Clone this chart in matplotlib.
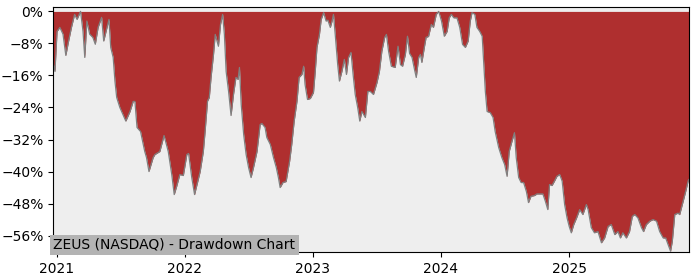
import pandas as pd
import matplotlib
matplotlib.use("Agg")
import matplotlib.pyplot as plt
import matplotlib.dates as mdates
from matplotlib.ticker import FuncFormatter, MultipleLocator

# drawdown points (date, % below the running peak)
dates = [
    "2020-12-22", "2020-12-27", "2021-01-02", "2021-01-10", "2021-01-19", "2021-01-27",
    "2021-02-03", "2021-02-12", "2021-02-21", "2021-02-28", "2021-03-10", "2021-03-17",
    "2021-03-22", "2021-03-28", "2021-04-05", "2021-04-14", "2021-04-21", "2021-04-29",
    "2021-05-09", "2021-05-15", "2021-05-23", "2021-05-30", "2021-06-04", "2021-06-11",
    "2021-06-16", "2021-06-21", "2021-06-30", "2021-07-10", "2021-07-17", "2021-07-29",
    "2021-08-07", "2021-08-12", "2021-08-18", "2021-08-28", "2021-09-09", "2021-09-14",
    "2021-09-21", "2021-10-03", "2021-10-08", "2021-10-22", "2021-11-03", "2021-11-15",
    "2021-11-25", "2021-12-02", "2021-12-09", "2021-12-18", "2021-12-28",
    "2022-01-07", "2022-01-12", "2022-01-21", "2022-01-29", "2022-02-05", "2022-02-14",
    "2022-02-23", "2022-02-28", "2022-03-07", "2022-03-12", "2022-03-17", "2022-03-24",
    "2022-03-29", "2022-04-03", "2022-04-07", "2022-04-13", "2022-04-19", "2022-04-24",
    "2022-04-29", "2022-05-06", "2022-05-13", "2022-05-20", "2022-05-27", "2022-06-02",
    "2022-06-06", "2022-06-11", "2022-06-18", "2022-06-25", "2022-07-02", "2022-07-09",
    "2022-07-16", "2022-07-26", "2022-08-04", "2022-08-09", "2022-08-18", "2022-08-23",
    "2022-09-02", "2022-09-11", "2022-09-19", "2022-09-25", "2022-09-30", "2022-10-08",
    "2022-10-17", "2022-10-27", "2022-11-02", "2022-11-09", "2022-11-17", "2022-11-23",
    "2022-12-01", "2022-12-06", "2022-12-10", "2022-12-17", "2022-12-25",
    "2023-01-03", "2023-01-08", "2023-01-13", "2023-01-20", "2023-01-25", "2023-02-01",
    "2023-02-08", "2023-02-13", "2023-02-20", "2023-02-25", "2023-03-01", "2023-03-06",
    "2023-03-13", "2023-03-18", "2023-03-25", "2023-04-01", "2023-04-07", "2023-04-13",
    "2023-04-20", "2023-04-26", "2023-05-02", "2023-05-09", "2023-05-15", "2023-05-21",
    "2023-05-31", "2023-06-07", "2023-06-14", "2023-06-23", "2023-07-03", "2023-07-10",
    "2023-07-17", "2023-07-25", "2023-07-30", "2023-08-05", "2023-08-13", "2023-08-24",
    "2023-09-01", "2023-09-08", "2023-09-14", "2023-09-22", "2023-09-28", "2023-10-04",
    "2023-10-11", "2023-10-18", "2023-10-23", "2023-10-30", "2023-11-04", "2023-11-08",
    "2023-11-15", "2023-11-20", "2023-11-27", "2023-12-05", "2023-12-11", "2023-12-19",
    "2023-12-26",
    "2024-01-03", "2024-01-11", "2024-01-19", "2024-01-25", "2024-01-31", "2024-02-07",
    "2024-02-16", "2024-02-24", "2024-03-03", "2024-03-11", "2024-03-19", "2024-03-25",
    "2024-03-30", "2024-04-07", "2024-04-13", "2024-04-21", "2024-04-28", "2024-05-02",
    "2024-05-07", "2024-05-12", "2024-05-21", "2024-05-29", "2024-06-04", "2024-06-14",
    "2024-06-23", "2024-07-01", "2024-07-08", "2024-07-14", "2024-07-22", "2024-07-29",
    "2024-08-03", "2024-08-10", "2024-08-17", "2024-08-24", "2024-09-01", "2024-09-07",
    "2024-09-14", "2024-09-24", "2024-10-01", "2024-10-11", "2024-10-18", "2024-10-25",
    "2024-11-01", "2024-11-06", "2024-11-13", "2024-11-20", "2024-11-27", "2024-12-05",
    "2024-12-12", "2024-12-19", "2024-12-26",
    "2025-01-01", "2025-01-07", "2025-01-14", "2025-01-22", "2025-01-31", "2025-02-09",
    "2025-02-19", "2025-02-24", "2025-03-05", "2025-03-14", "2025-03-24", "2025-04-03",
    "2025-04-12", "2025-04-22", "2025-05-01", "2025-05-11", "2025-05-20", "2025-05-27",
    "2025-06-03", "2025-06-13", "2025-06-22", "2025-06-30", "2025-07-07", "2025-07-16",
    "2025-07-26", "2025-08-01", "2025-08-09", "2025-08-19", "2025-08-28", "2025-09-07",
    "2025-09-16", "2025-09-26", "2025-10-03", "2025-10-10", "2025-10-17", "2025-10-22",
    "2025-10-29", "2025-11-07", "2025-11-12", "2025-11-22", "2025-11-29", "2025-12-06",
    "2025-12-08",
]
drawdown = [
    -13, -15, -5, -4, -5.7, -11,
    -7.8, -4, -0.75, -2, 0, -5,
    -11.5, -2.4, -5.7, -6.5, -8.2, -4,
    -1.5, -7.4, -4.5, -2, -9, -11.5,
    -17.4, -21.5, -24, -26, -27.4, -25,
    -22.5, -22.5, -29, -30, -35, -36.5,
    -40, -36.5, -35.75, -35, -31, -35,
    -40.75, -45.75, -43.7, -40.75, -41,
    -35.75, -35.5, -41.5, -45.75, -43.25, -40,
    -35, -30, -22.4, -21.5, -16.5, -10.75,
    -5.75, -7.4, -8.7, -3.25, -0.75, -5.75,
    -15, -20, -26, -20.75, -16.5, -17,
    -14, -23.25, -30.75, -35.75, -39, -41.5,
    -39, -35, -28.25, -28, -29, -31.5,
    -33.25, -36.5, -39, -41.5, -44, -42.75,
    -42.5, -37.4, -33.25, -27.4, -22.4, -16.5,
    -15.75, -13.7, -18.25, -22, -21.75,
    -20.25, -15, -9, -5.75, -2, -0.3,
    -2.4, -2.2, -4, -2.4, -0.75, -5.75,
    -13.25, -17.4, -15, -12, -15.75, -11.5,
    -10.25, -15.75, -20.75, -24, -27.4, -25,
    -26.5, -20, -20, -20.75, -17.8, -15,
    -9.9, -6.5, -5.75, -9.9, -13.7, -14,
    -8.7, -13.3, -13.7, -10.75, -6.2, -10.5,
    -11.5, -14.5, -16.5, -11.5, -10.75, -12.75,
    -9, -6.5, -6.25, -3.25, -4, -0.75,
    0,
    -2.4, -6.2, -5, -1.6, -0.75, -1.6,
    -1.6, -4, -8.25, -9, -7.4, -2.4,
    -0.3, -0.75, -4, -5, -6.2, -12.4,
    -20, -25, -25.3, -26.5, -30, -34,
    -36.5, -38.25, -41.2, -35, -32.4, -30.3,
    -36.5, -41.5, -42.75, -42.75, -45, -47.75,
    -46.2, -46, -45.6, -45.6, -45.6, -47.4,
    -49.5, -43.25, -43.5, -42.4, -41.2, -40.75,
    -42.4, -48.25, -51.6,
    -53.7, -55.3, -53.25, -51.6, -49.5, -50.75,
    -48.25, -49.5, -54, -55.3, -55, -57.8,
    -56.6, -53.7, -53.25, -55.75, -55, -56.6,
    -55.3, -56.6, -55, -51.2, -50.75, -51.6,
    -54, -55, -53.25, -52.4, -52, -52.4,
    -55, -56.6, -56.6, -58.25, -59.9, -57.4,
    -50.75, -50.4, -50.75, -47.4, -45, -42.4,
    -42,
]
title = "ZEUS (NASDAQ) - Drawdown Chart"

x = pd.to_datetime(dates)

fig = plt.figure(figsize=(7, 2.8), dpi=100)
ax = fig.add_axes([0.076, 0.10, 0.908, 0.875])
ax.set_facecolor("#eeeeee")

ax.fill_between(x, drawdown, 0, color="#af2f2f", linewidth=0)
ax.plot(x, drawdown, color="#808080", linewidth=0.9)

ax.set_xlim(x[0], x[-1])
ax.set_ylim(-60.1, 1.1)
ax.yaxis.set_major_locator(MultipleLocator(8))
ax.yaxis.set_major_formatter(FuncFormatter(lambda v, p: f"{v:.0f}%".replace("-", "\u2212")))
ax.xaxis.set_major_locator(mdates.YearLocator())
ax.xaxis.set_major_formatter(mdates.DateFormatter("%Y"))
ax.tick_params(labelsize=10)

ax.text(0.0, 0.0, title, transform=ax.transAxes, fontsize=10, ha="left", va="bottom",
        bbox=dict(facecolor="#b3b3b3", edgecolor="none", boxstyle="square,pad=0.25"))

fig.savefig("out.png", dpi=100)
